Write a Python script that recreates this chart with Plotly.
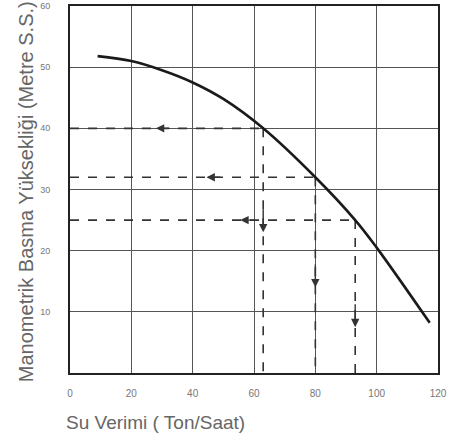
import plotly.graph_objects as go

# Pump curve data
flow = [9, 20, 30, 40, 50, 63, 80, 93, 100, 117.3]
head = [51.8, 51.0, 49.5, 47.5, 44.8, 40.0, 32.0, 25.0, 20.5, 8.2]

# Operating points (dashed guides)
op_flow = [63, 80, 93]
op_head = [40, 32, 25]
# arrow positions along guides
left_arrow_x = [28, 44.5, 55.5]
down_arrow_y = [23, 14, 7.5]

x_ticks = [0, 20, 40, 60, 80, 100, 120]
x_tick_text = ["0", "20", "40", "60", "80", "100", "120"]
y_ticks = [10, 20, 30, 40, 50, 60]
y_tick_text = ["10", "20", "30", "40", "50", "60"]

x_title = "Su Verimi ( Ton/Saat)"
y_title = "Manometrik Basma Yüksekliği (Metre S.S.)"

fig = go.Figure()

dash_col = "#333333"
for fx, hy in zip(op_flow, op_head):
    fig.add_trace(go.Scatter(x=[0, fx], y=[hy, hy], mode="lines",
                             line=dict(color=dash_col, width=1.6, dash="dash"),
                             hoverinfo="skip", showlegend=False))
    fig.add_trace(go.Scatter(x=[fx, fx], y=[hy, 0], mode="lines",
                             line=dict(color=dash_col, width=1.6, dash="dash"),
                             hoverinfo="skip", showlegend=False))

fig.add_trace(go.Scatter(x=flow, y=head, mode="lines",
                         line=dict(color="#1a1a1a", width=2.6, shape="spline", smoothing=1.0),
                         showlegend=False))

annotations = []
for fx, hy, lx, dy in zip(op_flow, op_head, left_arrow_x, down_arrow_y):
    annotations.append(dict(x=lx, y=hy, ax=lx + 5, ay=hy, xref="x", yref="y",
                            axref="x", ayref="y", text="", showarrow=True,
                            arrowhead=2, arrowsize=1.2, arrowwidth=1.4, arrowcolor="#333"))
    annotations.append(dict(x=fx, y=dy, ax=fx, ay=dy + 4, xref="x", yref="y",
                            axref="x", ayref="y", text="", showarrow=True,
                            arrowhead=2, arrowsize=1.2, arrowwidth=1.4, arrowcolor="#333"))

# axis titles placed like the reference
annotations.append(dict(text=x_title, xref="paper", yref="paper", x=-0.016, y=-0.134,
                        xanchor="left", yanchor="middle", showarrow=False,
                        font=dict(size=19, color="#666")))
annotations.append(dict(text=y_title, xref="paper", yref="paper", x=-0.12, y=0.495,
                        xanchor="center", yanchor="middle", textangle=-90, showarrow=False,
                        font=dict(size=20, color="#666")))

fig.update_layout(
    annotations=annotations,
    width=458, height=437,
    margin=dict(l=70, r=20, t=6, b=64, autoexpand=False),
    paper_bgcolor="white", plot_bgcolor="white",
    font=dict(family="Liberation Sans, Arial, sans-serif", color="#555"),
    xaxis=dict(range=[0, 120], tickvals=x_ticks, ticktext=x_tick_text,
               showgrid=True, gridcolor="#555", gridwidth=1.2,
               showline=True, linecolor="#222", linewidth=2, mirror=True,
               zeroline=False, ticks="", ticklabelstandoff=10,
               tickfont=dict(size=10, color="#777"), automargin=False),
    yaxis=dict(range=[0, 60], tickvals=y_ticks, ticktext=y_tick_text,
               showgrid=True, gridcolor="#555", gridwidth=1.2,
               showline=True, linecolor="#222", linewidth=2, mirror=True,
               zeroline=False, ticks="", ticklabelstandoff=16,
               tickfont=dict(size=9, color="#777"), automargin=False),
)

fig.write_html("out.html", config={"displayModeBar": False},
               post_script="document.body.style.margin='0';")
